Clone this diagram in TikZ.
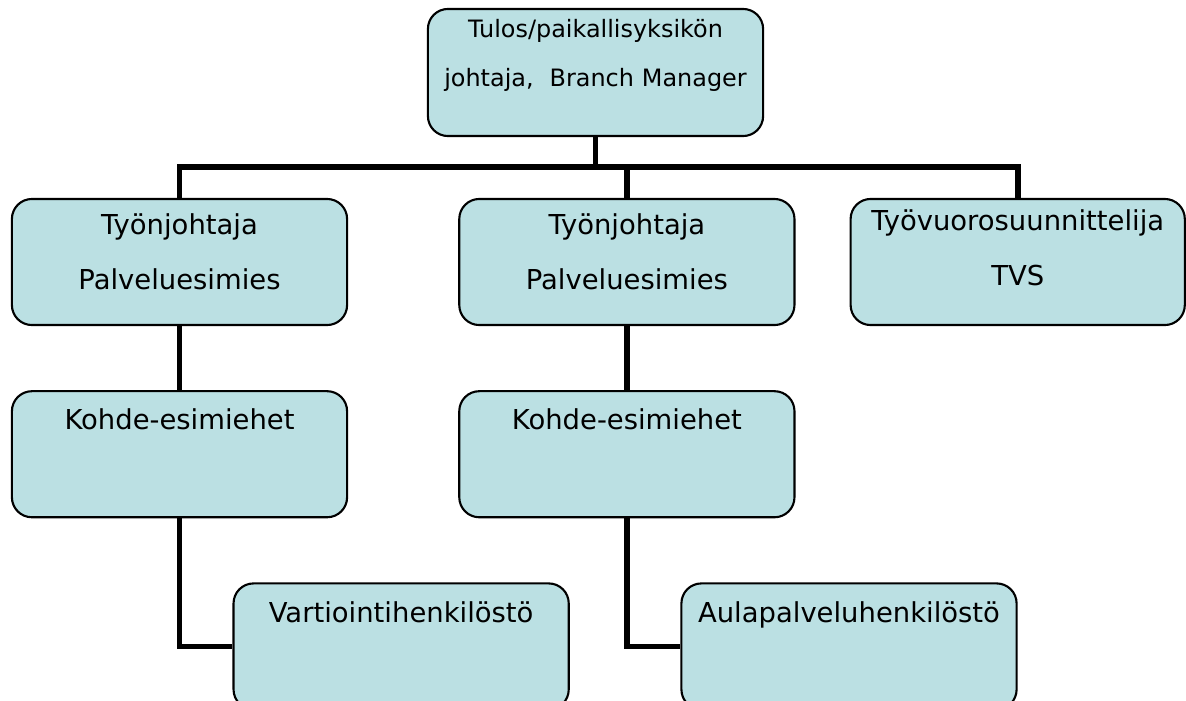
\documentclass[tikz,border=0pt]{standalone}
\usepackage{fontspec}
\setmainfont{DejaVu Sans}
\usetikzlibrary{positioning}
\definecolor{boxfill}{RGB}{187,224,227}

\begin{document}
\begin{tikzpicture}[
    x=0.01cm,y=-0.01cm,
    org/.style={draw,rectangle,rounded corners=0.2cm,line width=0.6pt,fill=boxfill,
               minimum width=3.35cm,minimum height=1.26cm,inner sep=0pt,
               text width=3.35cm,align=center,font=\fontsize{7.8}{15.4}\selectfont},
    conn/.style={line width=1.6pt}
  ]
    \clip (0,0) rectangle (1186,700);

    %% manager on top
    \node[org,minimum height=1.27cm,text height=0.29cm,text depth=0.98cm,
          font=\fontsize{6.8}{13.9}\selectfont] (mgr) at (595.5,72.5)
      {Tulos/paikallisyksikön\\johtaja,\ \ Branch Manager};

    %% second row
    \node[org,text height=0.36cm,text depth=0.90cm] (lead1) at (179.5,262)
      {Työnjohtaja\\Palveluesimies};
    \node[org,text height=0.36cm,text depth=0.90cm,right=1.1cm of lead1] (lead2)
      {Työnjohtaja\\Palveluesimies};
    \node[org,minimum width=3.34cm,text width=3.34cm,text height=0.32cm,
          text depth=0.94cm,right=0.54cm of lead2] (tvs)
      {Työvuorosuunnittelija\\TVS};

    %% third row
    \node[org,text height=0.38cm,text depth=0.88cm,below=0.64cm of lead1] (kohde1)
      {Kohde-esimiehet};
    \node[org,text height=0.38cm,text depth=0.88cm,below=0.64cm of lead2] (kohde2)
      {Kohde-esimiehet};

    %% staff
    \node[org,text height=0.39cm,text depth=0.87cm,below=0.64cm of kohde1,
          xshift=2.215cm] (vart) {Vartiointihenkilöstö};
    \node[org,text height=0.39cm,text depth=0.87cm,below=0.64cm of kohde2,
          xshift=2.22cm] (aula) {Aulapalveluhenkilöstö};

    \coordinate (bus) at (0,167);

    %% connectors
    \draw[conn] (mgr.south) -- (mgr.south |- bus);
    \draw[conn] (lead1.north) -- (lead1.north |- bus) -- (tvs.north |- bus) -- (tvs.north);
    \draw[conn] (lead2.north) -- (lead2.north |- bus);
    \draw[conn] (lead1) -- (kohde1);
    \draw[conn] (lead2) -- (kohde2);
    \draw[conn] (kohde1.south) |- (vart.west);
    \draw[conn] (kohde2.south) |- (aula.west);
\end{tikzpicture}
\end{document}
